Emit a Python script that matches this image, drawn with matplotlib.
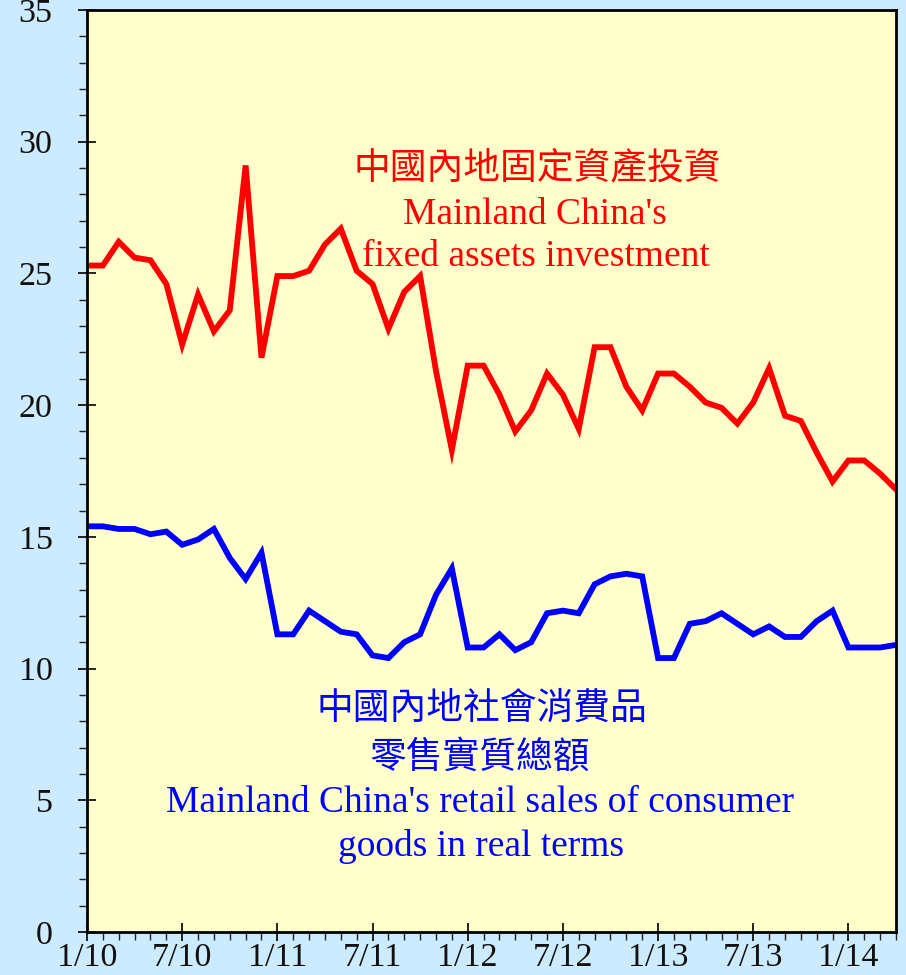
import numpy as np
import matplotlib
matplotlib.use("Agg")
import matplotlib.pyplot as plt
from matplotlib.ticker import MultipleLocator, FixedLocator

# ---- data (month index 0 = Jan 2010) ----
fixed_assets = [25.3, 25.3, 26.2, 25.6, 25.5, 24.6, 22.3, 24.2, 22.8, 23.6,
                29.1, 21.8, 24.9, 24.9, 25.1, 26.1, 26.7, 25.1, 24.6, 22.9,
                24.3, 24.9, 21.3, 18.3, 21.5, 21.5, 20.4, 19.0, 19.8, 21.2,
                20.4, 19.1, 22.2, 22.2, 20.7, 19.8, 21.2, 21.2, 20.7, 20.1,
                19.9, 19.3, 20.1, 21.4, 19.6, 19.4, 18.2, 17.1, 17.9, 17.9,
                17.4, 16.8]
retail_sales = [15.4, 15.4, 15.3, 15.3, 15.1, 15.2, 14.7, 14.9, 15.3, 14.2,
                13.4, 14.4, 11.3, 11.3, 12.2, 11.8, 11.4, 11.3, 10.5, 10.4,
                11.0, 11.3, 12.8, 13.8, 10.8, 10.8, 11.3, 10.7, 11.0, 12.1,
                12.2, 12.1, 13.2, 13.5, 13.6, 13.5, 10.4, 10.4, 11.7, 11.8,
                12.1, 11.7, 11.3, 11.6, 11.2, 11.2, 11.8, 12.2, 10.8, 10.8,
                10.8, 10.9]
x_tick_labels = ["1/10", "7/10", "1/11", "7/11", "1/12", "7/12", "1/13", "7/13", "1/14"]
y_tick_values = [0, 5, 10, 15, 20, 25, 30, 35]

red_label_cn = "中國內地固定資產投資"
red_label_en = ["Mainland China's", "fixed assets investment"]
blue_label_cn = ["中國內地社會消費品", "零售實質總額"]
blue_label_en = ["Mainland China's retail sales of consumer", "goods in real terms"]

W, H = 906, 975
fig = plt.figure(figsize=(W / 100, H / 100), dpi=100, facecolor="#CCEBFF")
ax = fig.add_axes([87 / W, 1 - 932 / H, (896 - 87) / W, (932 - 10) / H])
ax.set_facecolor("#FFFFCC")

xs = np.arange(len(fixed_assets))
ax.plot(xs, fixed_assets, color="#FF0000", lw=4.2, solid_joinstyle="miter", zorder=3)
ax.plot(np.arange(len(retail_sales)), retail_sales, color="#0000FF", lw=4.2,
        solid_joinstyle="miter", zorder=3)

ax.set_xlim(0, len(fixed_assets) - 1)
ax.set_ylim(0, 35)

ax.xaxis.set_major_locator(FixedLocator(np.arange(len(x_tick_labels)) * 6))
ax.set_xticklabels(x_tick_labels)
ax.xaxis.set_minor_locator(MultipleLocator(1))
ax.set_yticks(y_tick_values)
ax.yaxis.set_minor_locator(MultipleLocator(1))

serif = "Liberation Serif"
ax.tick_params(axis="both", which="major", direction="inout", length=13.5, width=1.2,
               color="black", labelsize=24.5, labelfontfamily=serif, labelcolor="#111111")
ax.tick_params(axis="both", which="minor", direction="out", length=5.8, width=1.0, color="#222222")
ax.tick_params(axis="x", which="major", pad=1)
ax.tick_params(axis="y", which="major", pad=18)

for s in ax.spines.values():
    s.set_linewidth(2.0)
    s.set_zorder(5)

def place(px, py, text, color, size, family, weight="normal"):
    fig.text(px / W, 1 - py / H, text, color=color, fontsize=size, family=family,
             ha="center", va="center", fontweight=weight)

cjk = ["Noto Sans CJK TC", "DejaVu Sans"]
place(537, 168, red_label_cn, "#FF0000", 26.5, cjk, "light")
place(535, 215, red_label_en[0], "#FF0000", 27, serif)
place(536, 257, red_label_en[1], "#FF0000", 27, serif)

place(482, 708, blue_label_cn[0], "#0000FF", 26.5, cjk, "light")
place(480, 757, blue_label_cn[1], "#0000FF", 26.5, cjk, "light")
place(480, 803, blue_label_en[0], "#0000FF", 27, serif)
place(481, 847, blue_label_en[1], "#0000FF", 27, serif)

fig.savefig("out.png", dpi=100, facecolor=fig.get_facecolor())
